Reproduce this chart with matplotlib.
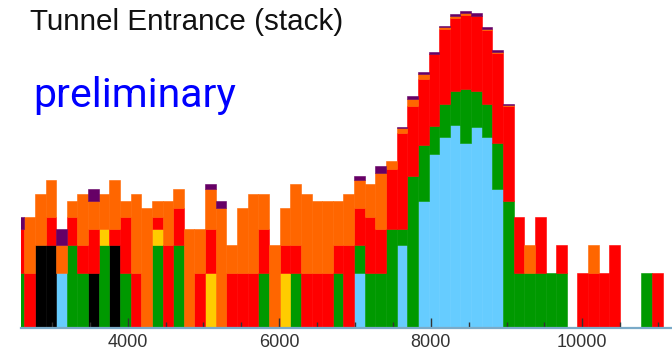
import matplotlib.pyplot as plt
import numpy as np
from matplotlib.ticker import MultipleLocator, FixedLocator

# Stacked histogram, 62 bins, listed bottom to top of the stack
bin_start = 2495
bin_width = 140.4

lightblue = [0, 0, 0, 0, 1, 0, 0, 0, 0, 0,
             0, 0, 0, 0, 0, 0, 0, 0, 0, 0,
             0, 0, 0, 0, 0, 0, 0, 0, 0, 0,
             0, 0, 1, 0, 0, 0, 2, 0, 6, 19,
             29, 39, 25, 37, 29, 8, 0, 0, 0, 0,
             0, 0, 0, 0, 0, 0, 0, 0, 0, 0,
             0, 0]
black = [0, 0, 2, 2, 0, 0, 0, 1, 0, 2,
         0, 0, 0, 0, 0, 0, 0, 0, 0, 0,
         0, 0, 0, 0, 0, 0, 0, 0, 0, 0,
         0, 0, 0, 0, 0, 0, 0, 0, 0, 0,
         0, 0, 0, 0, 0, 0, 0, 0, 0, 0,
         0, 0, 0, 0, 0, 0, 0, 0, 0, 0,
         0, 0]
green = [1, 0, 0, 0, 0, 2, 1, 0, 2, 0,
         1, 0, 0, 2, 0, 2, 0, 0, 0, 0,
         0, 0, 0, 1, 0, 0, 1, 0, 0, 0,
         1, 0, 1, 1, 1, 3, 1, 11, 18, 19,
         37, 52, 69, 54, 37, 17, 6, 1, 1, 1,
         1, 1, 0, 0, 0, 0, 0, 0, 0, 1,
         0, 0]
yellow = [0, 0, 0, 0, 0, 0, 0, 0, 1, 0,
          0, 0, 0, 1, 0, 0, 0, 0, 1, 0,
          0, 0, 0, 0, 0, 1, 0, 0, 0, 0,
          0, 0, 0, 0, 0, 0, 0, 0, 0, 0,
          0, 0, 0, 0, 0, 0, 0, 0, 0, 0,
          0, 0, 0, 0, 0, 0, 0, 0, 0, 0,
          0, 0]
red = [2, 1, 0, 2, 0, 2, 1, 2, 0, 1,
       3, 1, 0, 1, 2, 3, 0, 1, 2, 0,
       1, 1, 1, 2, 0, 1, 1, 1, 1, 1,
       1, 2, 3, 3, 2, 10, 29, 51, 96, 184,
       349, 450, 493, 480, 340, 205, 56, 3, 0, 3,
       0, 1, 0, 1, 1, 1, 2, 0, 0, 0,
       1, 0]
orange = [0, 3, 5, 6, 1, 2, 5, 3, 4, 7,
          2, 6, 5, 2, 4, 3, 3, 2, 5, 5,
          1, 4, 6, 4, 2, 3, 7, 6, 5, 5,
          4, 5, 5, 5, 9, 3, 4, 11, 17, 4,
          20, 36, 25, 6, 6, 4, 1, 0, 1, 0,
          0, 0, 0, 0, 1, 0, 0, 0, 0, 0,
          0, 0]
purple = [1, 0, 0, 0, 1, 0, 0, 2, 0, 0,
          0, 0, 0, 0, 0, 0, 0, 0, 1, 1,
          0, 0, 0, 0, 0, 0, 0, 0, 0, 0,
          0, 0, 1, 0, 2, 0, 1, 6, 8, 10,
          12, 24, 35, 35, 21, 13, 2, 0, 0, 0,
          0, 0, 0, 0, 0, 0, 0, 0, 0, 0,
          0, 0]

series = [(lightblue, '#66ccff'), (black, '#000000'), (green, '#009900'),
          (yellow, '#ffcc00'), (red, '#ff0000'), (orange, '#ff6600'),
          (purple, '#660066')]

tick_values = [4000, 6000, 8000, 10000]

fig = plt.figure(figsize=(6.72, 3.51), dpi=100)
ax = fig.add_axes([20.7 / 672, 22.7 / 351, 1 - 20.7 / 672, 1 - 22.7 / 351])

lefts = bin_start + bin_width * np.arange(len(red))
cum = np.zeros(len(red))
for values, color in series:
    values = np.array(values, dtype=float)
    top = cum + values
    mask = values > 0
    bottom = np.where(cum > 0, cum, 0.01)
    ax.bar(lefts[mask], (top - bottom)[mask], bottom=bottom[mask], width=bin_width,
           align='edge', color=color, edgecolor=color, linewidth=0.4)
    cum = top

ax.set_yscale('log')
ax.set_ylim(0.2573, 850)
ax.set_xlim(2588, 11184)

for side in ['top', 'right', 'left']:
    ax.spines[side].set_visible(False)
ax.spines['bottom'].set_color('#7aaac8')
ax.spines['bottom'].set_linewidth(1.6)

ax.yaxis.set_visible(False)
ax.xaxis.set_major_locator(FixedLocator(tick_values))
ax.xaxis.set_minor_locator(MultipleLocator(500))
ax.tick_params(axis='x', which='major', direction='in', length=7.5, width=1,
               color='#333333', labelcolor='#333333', labelsize=13, pad=4)
ax.tick_params(axis='x', which='minor', direction='in', length=4, width=1,
               color='#333333')
for lab in ax.get_xticklabels():
    lab.set_family('Liberation Sans')

fig.text(30 / 672, 1 - 30 / 351, 'Tunnel Entrance (stack)', fontsize=21.3,
         family='Liberation Sans', color='#111111', va='baseline', ha='left')
fig.text(33 / 672, 1 - 106.7 / 351, 'preliminary', fontsize=29.5,
         family='Roboto', color='#0000ff', va='baseline', ha='left')

plt.savefig('out.png', dpi=100)
